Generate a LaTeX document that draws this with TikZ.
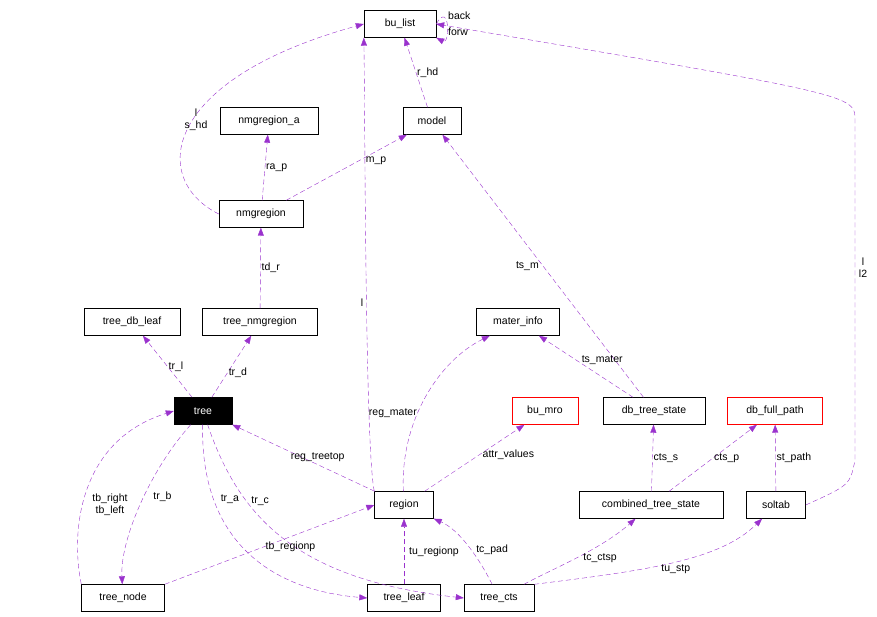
\documentclass[tikz,border=0pt]{standalone}
\usepackage{fontspec}
\setmainfont{Liberation Sans}
\usetikzlibrary{arrows.meta}
\definecolor{edge}{HTML}{9A32CD}
\begin{document}
\begin{tikzpicture}[x=1pt,y=-1pt,
  box/.style={draw=black,fill=white,minimum height=27pt,inner xsep=4pt,font=\fontsize{10.5}{12}\selectfont,anchor=center},
  red/.style={box,draw=red},
  e/.style={draw=edge,dashed,dash pattern=on 5pt off 3pt,-{Triangle[length=8pt,width=6pt]}},
  lab/.style={font=\fontsize{10.5}{12}\selectfont,align=center,inner sep=1pt}]
\useasboundingbox (0,0) rectangle (877,617);
\node[box,minimum width=72pt] (bu) at (400,24) {bu\_list};
\node[box,minimum width=98pt] (nra) at (269,121) {nmgregion\_a};
\node[box,minimum width=58pt] (model) at (432,121) {model};
\node[box,minimum width=84pt] (nmg) at (261,214) {nmgregion};
\node[box,minimum width=96pt] (tdl) at (132,322) {tree\_db\_leaf};
\node[box,minimum width=115pt] (tnm) at (260,322) {tree\_nmgregion};
\node[box,minimum width=83pt] (mat) at (518,322) {mater\_info};
\node[box,minimum width=58pt,fill=black,text=white] (tree) at (203,411) {tree};
\node[red,minimum width=66pt] (mro) at (545,411) {bu\_mro};
\node[box,minimum width=102pt] (dts) at (654,411) {db\_tree\_state};
\node[red,minimum width=95pt] (dfp) at (775,411) {db\_full\_path};
\node[box,minimum width=59pt] (reg) at (404,505) {region};
\node[box,minimum width=144pt] (cts) at (651,505) {combined\_tree\_state};
\node[box,minimum width=59pt] (sol) at (776,505) {soltab};
\node[box,minimum width=83pt] (tn) at (123,598) {tree\_node};
\node[box,minimum width=73pt] (tl) at (404,598) {tree\_leaf};
\node[box,minimum width=70pt] (tc) at (499,598) {tree\_cts};

\draw[e] (bu.east) .. controls (450,0) and (450,45) .. (bu.south east);
\node[lab,anchor=west] at (447,16) {back};
\node[lab,anchor=west] at (447,32) {forw};
\draw[e] (nmg.west) .. controls (150,180) and (160,80) .. (bu.west);
\node[lab] at (196,120) {l\\s\_hd};
\draw[e] (nmg) -- (nra) node[lab,pos=0.5,right] {ra\_p};
\draw[e] (nmg) -- (model) node[lab,pos=0.6,right=6pt] {m\_p};
\draw[e] (model) -- (bu) node[lab,pos=0.5,right] {r\_hd};
\draw[e] (reg.north west) .. controls (365,450) and (365,100) .. (bu.south west) node[lab,pos=0.45,left=2pt] {l};
\draw[e] (sol.east) .. controls (850,485) .. (855,460) -- (855,120) .. controls (855,95) .. (bu.east);
\node[lab] at (863,268) {l\\l2};
\draw[e] (tnm) -- (nmg) node[lab,pos=0.5,right] {td\_r};
\draw[e] (tree) -- (tdl) node[lab,pos=0.5,right] {tr\_l};
\draw[e] (tree) -- (tnm) node[lab,pos=0.4,right] {tr\_d};
\draw[e] (dts) -- (model) node[lab,pos=0.5,left=3pt] {ts\_m};
\draw[e] (dts) -- (mat) node[lab,pos=0.6,right=4pt] {ts\_mater};
\draw[e] (reg) .. controls (400,420) and (440,360) .. (mat) node[lab,pos=0.4,left] {reg\_mater};
\draw[e] (reg) -- (mro) node[lab,pos=0.55,right=2pt] {attr\_values};
\draw[e] (reg) -- (tree) node[lab,pos=0.4,above=2pt] {reg\_treetop};
\draw[e] (cts) -- (dts) node[lab,pos=0.5,right] {cts\_s};
\draw[e] (cts) -- (dfp) node[lab,pos=0.5,right] {cts\_p};
\draw[e] (sol) -- (dfp) node[lab,pos=0.5,right] {st\_path};
\draw[e] (tn.north west) .. controls (70,530) and (80,440) .. (tree.west);
\node[lab] at (110,505) {tb\_right\\tb\_left};
\draw[e] (tree) .. controls (150,470) and (120,540) .. (tn) node[lab,pos=0.45,right=8pt] {tr\_b};
\draw[e] (tree) .. controls (200,540) and (270,590) .. (tl.west) node[lab,pos=0.25,right=6pt] {tr\_a};
\draw[e] (tree) .. controls (240,520) and (300,580) .. (tc.west) node[lab,pos=0.3,right=4pt] {tr\_c};
\draw[e] (tn.north east) -- (reg.west) node[lab,pos=0.6,below=4pt] {tb\_regionp};
\draw[e] (tl) -- (reg) node[lab,pos=0.5,right=4pt] {tu\_regionp};
\draw[e] (tc) .. controls (480,560) and (460,530) .. (reg.south east) node[lab,pos=0.45,right=4pt] {tc\_pad};
\draw[e] (tc) .. controls (550,570) and (600,550) .. (cts) node[lab,pos=0.5,right=6pt] {tc\_ctsp};
\draw[e] (tc.north east) .. controls (650,570) and (720,560) .. (sol) node[lab,pos=0.5,below=2pt] {tu\_stp};
\end{tikzpicture}
\end{document}
